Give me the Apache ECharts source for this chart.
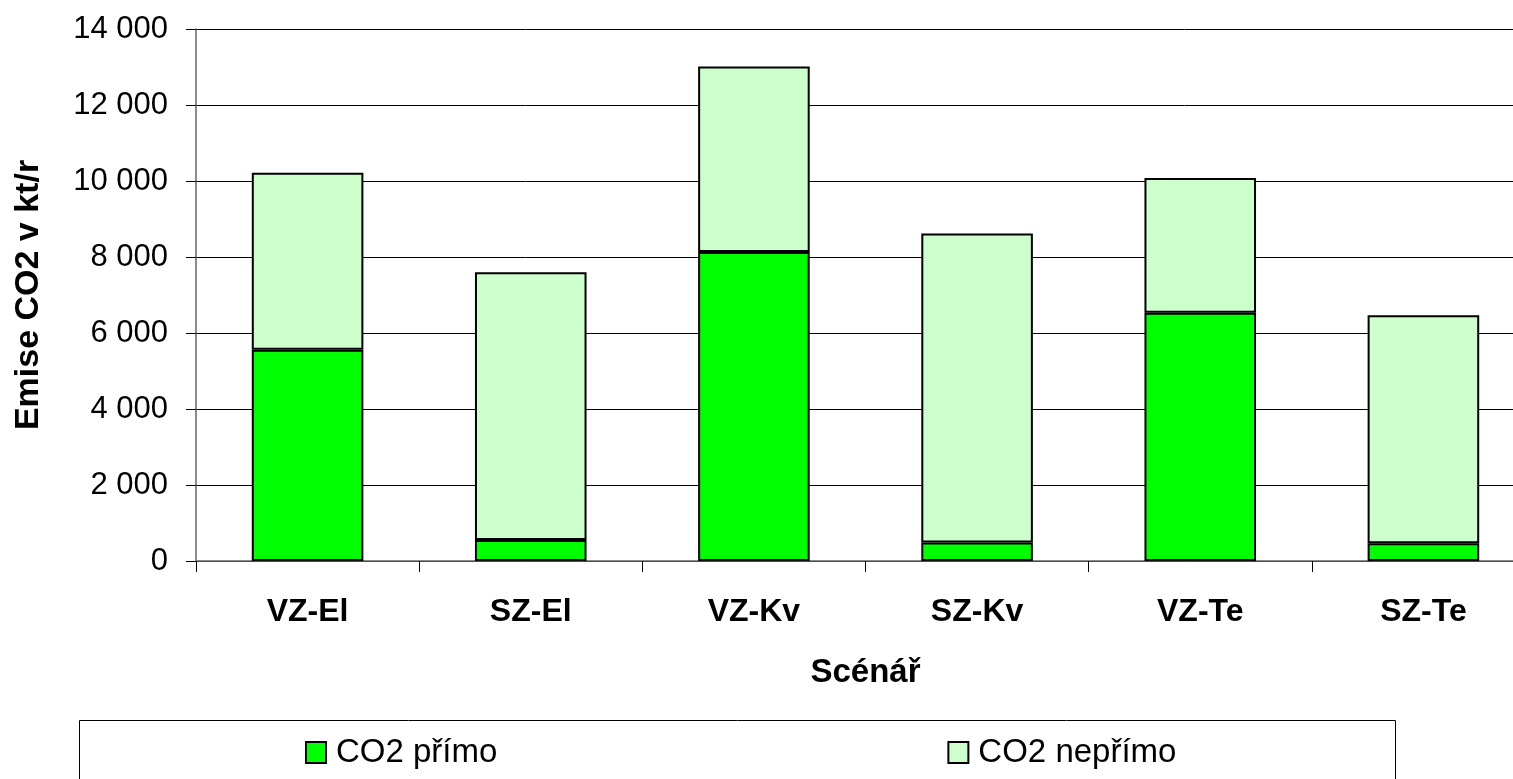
<!DOCTYPE html>
<html>
<head>
<meta charset="utf-8">
<script src="https://cdn.jsdelivr.net/npm/echarts@6/dist/echarts.min.js"></script>
<style>
  html, body { margin: 0; padding: 0; background: #fff; }
  #chart { width: 1513px; height: 779px; }
</style>
</head>
<body>
<div id="chart"></div>
<script>
// scénáře
const categories = ['VZ-El', 'SZ-El', 'VZ-Kv', 'SZ-Kv', 'VZ-Te', 'SZ-Te']
// CO2 přímo (kt/r)
const directValues = [5560, 550, 8130, 490, 6530, 470]
// CO2 nepřímo (kt/r) – zbytek do celkové výšky sloupce
const indirectValues = [4660, 7050, 4880, 8130, 3550, 6000]
const seriesNames = ['CO2 přímo', 'CO2 nepřímo']
const yTicks = [0, 2000, 4000, 6000, 8000, 10000, 12000, 14000]

const fontFamily = 'Liberation Sans, Arial, sans-serif'

// 14000 -> "14 000"
function fmtThousands(v) {
  return String(v).replace(/\B(?=(\d{3})+(?!\d))/g, ' ')
}

const chart = echarts.init(document.getElementById('chart'))

const option = {
  animation: false,
  textStyle: { fontFamily: fontFamily, color: '#000' },
  // plocha grafu přesahuje pravý okraj obrázku
  grid: {
    left: 196,
    top: 29,
    width: 1339,
    bottom: 218,
    containLabel: false,
    outerBoundsMode: 'none'
  },
  legend: {
    left: 300,
    top: 731,
    itemWidth: 20,
    itemHeight: 21,
    itemGap: 450,
    icon: 'rect',
    textStyle: { fontSize: 33, color: '#000', fontFamily: fontFamily, padding: [0, 0, 0, 5] },
    data: seriesNames
  },
  graphic: [
    {
      type: 'rect',
      shape: { x: 79.5, y: 720.5, width: 1316, height: 80 },
      style: { fill: 'none', stroke: '#000', lineWidth: 1 },
      silent: true,
      z: -1
    }
  ],
  xAxis: {
    type: 'category',
    data: categories,
    name: 'Scénář',
    nameLocation: 'middle',
    nameGap: 95,
    nameTextStyle: { fontSize: 33, fontWeight: 'bold', color: '#000' },
    axisLine: { lineStyle: { color: '#666', width: 1.5 } },
    axisTick: { show: true, length: 11, lineStyle: { color: '#000', width: 1 } },
    axisLabel: { fontSize: 32, fontWeight: 'bold', color: '#000', margin: 35 }
  },
  yAxis: {
    type: 'value',
    min: yTicks[0],
    max: yTicks[yTicks.length - 1],
    interval: 2000,
    name: 'Emise CO2 v kt/r',
    nameLocation: 'middle',
    nameGap: 150,
    nameRotate: 90,
    nameTextStyle: { fontSize: 34, fontWeight: 'bold', color: '#000' },
    axisLine: { show: true, lineStyle: { color: '#666', width: 1.5 } },
    axisTick: { show: true, length: 10, lineStyle: { color: '#000', width: 1 } },
    axisLabel: {
      fontSize: 31,
      color: '#000',
      margin: 28,
      formatter: fmtThousands
    },
    splitLine: { show: true, lineStyle: { color: '#000', width: 1 } }
  },
  series: [
    {
      name: seriesNames[0],
      type: 'bar',
      stack: 'co2',
      barWidth: '50%',
      data: directValues,
      itemStyle: { color: '#00ff00', borderColor: '#000', borderWidth: 2 }
    },
    {
      name: seriesNames[1],
      type: 'bar',
      stack: 'co2',
      barWidth: '50%',
      data: indirectValues,
      itemStyle: { color: '#ccffcc', borderColor: '#000', borderWidth: 2 }
    }
  ]
}

chart.setOption(option)
</script>
</body>
</html>
